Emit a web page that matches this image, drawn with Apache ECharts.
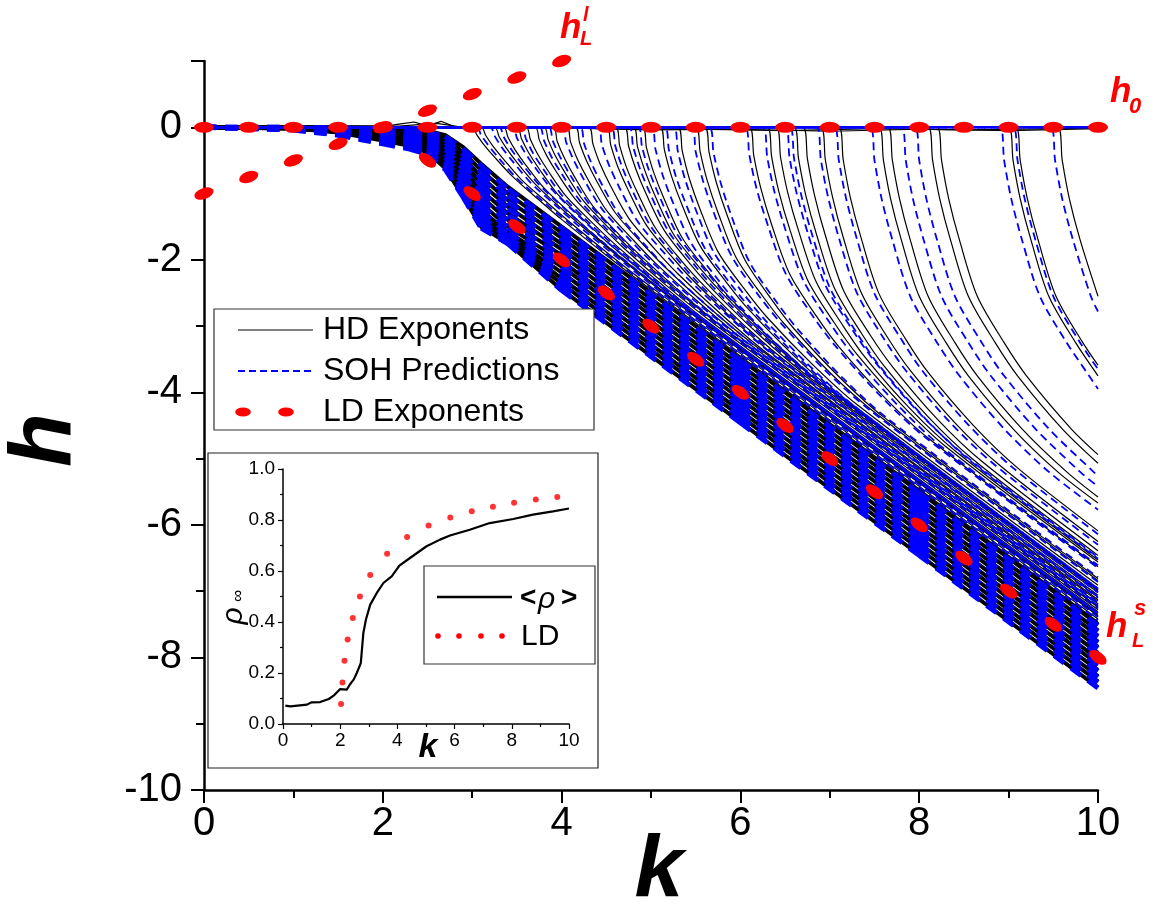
<!DOCTYPE html>
<html>
<head>
<meta charset="utf-8">
<script src="https://cdn.jsdelivr.net/npm/echarts@6/dist/echarts.min.js"></script>
<style>html,body{margin:0;background:#fff}#chart{width:1159px;height:913px}</style>
</head>
<body>
<div id="chart"></div>
<script>
// ---- main panel: growth exponents h versus k ----
const kTicksMain = [0, 2, 4, 6, 8, 10];

// exponents that leave h = 0 early (k < 3) share this k grid and form the dense lower band
const bandK = [0, 1, 1.5, 2, 2.3, 2.5, 2.7, 2.9, 3.1, 3.4, 4, 6, 8, 10];
const hdBandH = [
  [0, 0, 0, 0, -0.02, -0.05, -0.12, -0.3, -0.55, -0.9, -1.5, -3.5, -5.5, -7.5],
  [0, 0, 0, -0.01, -0.03, -0.07, -0.16, -0.38, -0.65, -1.0, -1.59, -3.59, -5.59, -7.59],
  [0, 0, -0.01, -0.02, -0.05, -0.1, -0.2, -0.45, -0.75, -1.1, -1.67, -3.67, -5.67, -7.67],
  [0, 0, -0.01, -0.03, -0.07, -0.13, -0.25, -0.52, -0.85, -1.2, -1.76, -3.76, -5.76, -7.76],
  [0, -0.01, -0.02, -0.05, -0.1, -0.16, -0.3, -0.6, -0.95, -1.3, -1.84, -3.84, -5.84, -7.84],
  [0, -0.01, -0.02, -0.07, -0.13, -0.2, -0.36, -0.68, -1.05, -1.4, -1.93, -3.93, -5.93, -7.93],
  [0, -0.01, -0.03, -0.09, -0.16, -0.24, -0.42, -0.76, -1.15, -1.5, -2.02, -4.02, -6.02, -8.02],
  [0, -0.01, -0.04, -0.11, -0.19, -0.28, -0.48, -0.84, -1.25, -1.58, -2.1, -4.1, -6.1, -8.1],
  [0, -0.01, -0.05, -0.14, -0.22, -0.31, -0.53, -0.9, -1.33, -1.64, -2.19, -4.19, -6.19, -8.19],
  [0, -0.02, -0.06, -0.16, -0.25, -0.34, -0.57, -0.96, -1.4, -1.68, -2.28, -4.28, -6.28, -8.28],
  [0, -0.02, -0.07, -0.18, -0.27, -0.36, -0.6, -1.0, -1.45, -1.72, -2.36, -4.36, -6.36, -8.36],
  [0, -0.02, -0.08, -0.2, -0.28, -0.38, -0.62, -1.05, -1.5, -1.75, -2.45, -4.45, -6.45, -8.45]
];
const sohBandH = [
  [0, 0, -0.01, -0.02, -0.04, -0.07, -0.14, -0.33, -0.58, -0.93, -1.52, -3.52, -5.52, -7.52],
  [0, 0, -0.02, -0.04, -0.07, -0.1, -0.19, -0.41, -0.68, -1.03, -1.61, -3.61, -5.61, -7.61],
  [0, -0.01, -0.03, -0.06, -0.1, -0.14, -0.24, -0.48, -0.78, -1.13, -1.69, -3.69, -5.69, -7.69],
  [0, -0.01, -0.04, -0.08, -0.13, -0.18, -0.29, -0.55, -0.88, -1.23, -1.78, -3.78, -5.78, -7.78],
  [0, -0.01, -0.05, -0.1, -0.16, -0.22, -0.34, -0.63, -0.98, -1.33, -1.86, -3.86, -5.86, -7.86],
  [0, -0.02, -0.06, -0.12, -0.19, -0.26, -0.4, -0.71, -1.08, -1.43, -1.95, -3.95, -5.95, -7.95],
  [0, -0.02, -0.07, -0.14, -0.22, -0.29, -0.45, -0.79, -1.18, -1.52, -2.04, -4.04, -6.04, -8.04],
  [0, -0.02, -0.08, -0.16, -0.24, -0.32, -0.5, -0.86, -1.27, -1.6, -2.12, -4.12, -6.12, -8.12],
  [0, -0.03, -0.09, -0.19, -0.27, -0.35, -0.55, -0.92, -1.35, -1.66, -2.21, -4.21, -6.21, -8.21],
  [0, -0.03, -0.1, -0.21, -0.29, -0.37, -0.58, -0.98, -1.42, -1.7, -2.3, -4.3, -6.3, -8.3],
  [0, -0.03, -0.11, -0.23, -0.31, -0.39, -0.61, -1.02, -1.47, -1.73, -2.38, -4.38, -6.38, -8.38],
  [0, -0.04, -0.12, -0.25, -0.33, -0.41, -0.64, -1.06, -1.52, -1.76, -2.46, -4.46, -6.46, -8.46]
];

// HD exponents that stay at h = 0 over the whole range
const hdFlat = [
  [[0, 0], [1, 0], [2, 0.01], [2.2, 0.05], [2.35, 0.08], [2.5, 0.02], [2.65, 0.09], [2.8, 0.01], [3.5, 0], [4.5, -0.02], [5.5, -0.03], [6.5, -0.05], [7.5, -0.02], [8.5, -0.04], [9.5, -0.02], [10, -0.01]],
  [[0, 0], [2, 0], [2.4, 0.04], [2.6, 0.06], [2.9, 0], [4, -0.01], [5, -0.04], [6, -0.03], [7, -0.06], [8, -0.03], [9, -0.05], [10, -0.02]]
];
const sohFlat = [[0, 0], [10, 0]];

// HD exponents leaving h = 0 at k >= 3
const hdCurves = [
  [[0,0],[3,0],[3.05,-.11],[3.13,-.26],[3.25,-.45],[3.45,-.74],[3.75,-1.1],[4,-1.39],[4.5,-1.93],[5,-2.45],[10,-7.46]],
  [[0,0],[3.1,0],[3.15,-.12],[3.23,-.28],[3.35,-.48],[3.55,-.79],[3.85,-1.15],[4.1,-1.44],[4.6,-1.99],[5.1,-2.51],[10,-7.42]],
  [[0,0],[3.25,0],[3.3,-.14],[3.38,-.31],[3.5,-.53],[3.7,-.85],[4,-1.23],[4.25,-1.52],[4.75,-2.08],[5.25,-2.61],[10,-7.37]],
  [[0,0],[3.35,0],[3.4,-.15],[3.48,-.34],[3.6,-.57],[3.8,-.91],[4.1,-1.3],[4.35,-1.61],[4.85,-2.17],[5.35,-2.7],[10,-7.37]],
  [[0,0],[3.5,0],[3.55,-.17],[3.63,-.38],[3.75,-.63],[3.95,-1],[4.25,-1.4],[4.5,-1.72],[5,-2.29],[5.5,-2.83],[10,-7.35]],
  [[0,0],[3.6,0],[3.65,-.18],[3.73,-.4],[3.85,-.66],[4.05,-1.04],[4.35,-1.45],[4.6,-1.77],[5.1,-2.35],[5.6,-2.9],[10,-7.31]],
  [[0,0],[3.7,0],[3.75,-.19],[3.83,-.42],[3.95,-.69],[4.15,-1.08],[4.45,-1.5],[4.7,-1.83],[5.2,-2.42],[5.7,-2.96],[10,-7.28]],
  [[0,0],[3.8,0],[3.85,-.19],[3.93,-.43],[4.05,-.71],[4.25,-1.12],[4.55,-1.55],[4.8,-1.88],[5.3,-2.48],[5.8,-3.02],[10,-7.24]],
  [[0,0],[3.9,0],[3.95,-.21],[4.03,-.46],[4.15,-.76],[4.35,-1.19],[4.65,-1.63],[4.9,-1.96],[5.4,-2.57],[5.9,-3.12],[10,-7.24]],
  [[0,0],[4.05,0],[4.1,-.22],[4.18,-.49],[4.3,-.8],[4.5,-1.25],[4.8,-1.7],[5.05,-2.05],[5.55,-2.66],[6.05,-3.22],[10,-7.19]],
  [[0,0],[4.15,0],[4.2,-.23],[4.28,-.51],[4.4,-.83],[4.6,-1.29],[4.9,-1.75],[5.15,-2.1],[5.65,-2.72],[6.15,-3.28],[10,-7.15]],
  [[0,0],[4.3,0],[4.35,-.25],[4.43,-.55],[4.55,-.89],[4.75,-1.37],[5.05,-1.85],[5.3,-2.21],[5.8,-2.84],[6.3,-3.41],[10,-7.13]],
  [[0,0],[4.5,0],[4.55,-.27],[4.63,-.6],[4.75,-.96],[4.95,-1.48],[5.25,-1.98],[5.5,-2.35],[6,-3],[6.5,-3.57],[10,-7.09]],
  [[0,0],[4.6,0],[4.65,-.28],[4.73,-.62],[4.85,-.99],[5.05,-1.52],[5.35,-2.03],[5.6,-2.4],[6.1,-3.06],[6.6,-3.63],[10,-7.06]],
  [[0,0],[4.7,0],[4.75,-.29],[4.83,-.63],[4.95,-1.02],[5.15,-1.56],[5.45,-2.08],[5.7,-2.46],[6.2,-3.12],[6.7,-3.7],[10,-7.02]],
  [[0,0],[4.8,0],[4.85,-.3],[4.93,-.65],[5.05,-1.05],[5.25,-1.61],[5.55,-2.13],[5.8,-2.51],[6.3,-3.18],[6.8,-3.76],[10,-6.99]],
  [[0,0],[4.9,0],[4.95,-.31],[5.03,-.68],[5.15,-1.09],[5.35,-1.67],[5.65,-2.2],[5.9,-2.6],[6.4,-3.27],[6.9,-3.86],[10,-6.99]],
  [[0,0],[5.1,0],[5.15,-.34],[5.23,-.74],[5.35,-1.18],[5.55,-1.79],[5.85,-2.35],[6.1,-2.76],[6.6,-3.45],[7.1,-4.05],[10,-6.98]],
  [[0,0],[5.3,0],[5.35,-.36],[5.43,-.78],[5.55,-1.24],[5.75,-1.88],[6.05,-2.45],[6.3,-2.87],[6.8,-3.57],[7.3,-4.18],[10,-6.91]],
  [[0,0],[5.5,0],[5.55,-.37],[5.63,-.81],[5.75,-1.29],[5.95,-1.96],[6.25,-2.55],[6.5,-2.98],[7,-3.7],[7.5,-4.3],[10,-6.84]],
  [[0,0],[5.6,0],[5.65,-.38],[5.73,-.83],[5.85,-1.32],[6.05,-2],[6.35,-2.6],[6.6,-3.04],[7.1,-3.76],[7.6,-4.37],[10,-6.81]],
  [[0,0],[6.1,0],[6.15,-.43],[6.23,-.93],[6.35,-1.47],[6.55,-2.21],[6.85,-2.85],[7.1,-3.31],[7.6,-4.06],[8.1,-4.69],[10,-6.63]],
  [[0,0],[6.3,0],[6.35,-.45],[6.43,-.97],[6.55,-1.53],[6.75,-2.3],[7.05,-2.95],[7.3,-3.42],[7.8,-4.18],[8.3,-4.82],[10,-6.56]],
  [[0,0],[6.4,0],[6.45,-.46],[6.53,-.99],[6.65,-1.56],[6.85,-2.34],[7.15,-3],[7.4,-3.48],[7.9,-4.25],[8.4,-4.88],[10,-6.53]],
  [[0,0],[6.6,0],[6.65,-.47],[6.73,-1.02],[6.85,-1.61],[7.05,-2.42],[7.35,-3.1],[7.6,-3.59],[8.1,-4.37],[8.6,-5.01],[10,-6.46]],
  [[0,0],[6.7,0],[6.75,-.48],[6.83,-1.03],[6.95,-1.63],[7.15,-2.45],[7.45,-3.13],[7.7,-3.61],[8.2,-4.4],[8.7,-5.04],[10,-6.39]],
  [[0,0],[6.9,0],[6.95,-.49],[7.03,-1.05],[7.15,-1.66],[7.35,-2.49],[7.65,-3.18],[7.9,-3.67],[8.4,-4.46],[8.9,-5.1],[10,-6.25]],
  [[0,0],[7.1,0],[7.15,-.49],[7.23,-1.06],[7.35,-1.67],[7.55,-2.51],[7.85,-3.2],[8.1,-3.7],[8.6,-4.49],[9.1,-5.14],[10,-6.09]],
  [[0,0],[7.55,0],[7.6,-.5],[7.68,-1.08],[7.8,-1.7],[8,-2.55],[8.3,-3.25],[8.55,-3.75],[9.05,-4.55],[9.55,-5.2],[10,-5.67]],
  [[0,0],[7.65,0],[7.7,-.5],[7.78,-1.08],[7.9,-1.7],[8.1,-2.55],[8.4,-3.25],[8.65,-3.75],[9.15,-4.55],[9.65,-5.2],[10,-5.58]],
  [[0,0],[8.1,0],[8.15,-.5],[8.23,-1.08],[8.35,-1.7],[8.55,-2.55],[8.85,-3.25],[9.1,-3.75],[9.6,-4.55],[10,-5.07]],
  [[0,0],[8.2,0],[8.25,-.5],[8.33,-1.08],[8.45,-1.7],[8.65,-2.55],[8.95,-3.25],[9.2,-3.75],[9.7,-4.55],[10,-4.94]],
  [[0,0],[9,0],[9.05,-.5],[9.13,-1.08],[9.25,-1.7],[9.45,-2.55],[9.75,-3.25],[10,-3.75]],
  [[0,0],[9.08,0],[9.13,-.5],[9.21,-1.08],[9.33,-1.7],[9.53,-2.55],[9.83,-3.25],[10,-3.59]],
  [[0,0],[9.55,0],[9.6,-.5],[9.68,-1.08],[9.8,-1.7],[10,-2.55]]
];

// SOH predictions for the same exponents
const sohCurves = [
  [[0,0],[3.05,0],[3.1,-.12],[3.18,-.27],[3.3,-.47],[3.5,-.77],[3.8,-1.13],[4.05,-1.41],[4.55,-1.96],[5.05,-2.48],[10,-7.44]],
  [[0,0],[3.2,0],[3.25,-.13],[3.33,-.3],[3.45,-.51],[3.65,-.83],[3.95,-1.2],[4.2,-1.5],[4.7,-2.05],[5.2,-2.58],[10,-7.39]],
  [[0,0],[3.3,0],[3.35,-.14],[3.43,-.32],[3.55,-.54],[3.75,-.87],[4.05,-1.25],[4.3,-1.55],[4.8,-2.11],[5.3,-2.64],[10,-7.35]],
  [[0,0],[3.45,0],[3.5,-.16],[3.58,-.36],[3.7,-.6],[3.9,-.95],[4.2,-1.35],[4.45,-1.66],[4.95,-2.23],[5.45,-2.77],[10,-7.33]],
  [[0,0],[3.55,0],[3.6,-.17],[3.68,-.39],[3.8,-.64],[4,-1.02],[4.3,-1.43],[4.55,-1.74],[5.05,-2.32],[5.55,-2.86],[10,-7.33]],
  [[0,0],[3.75,0],[3.8,-.19],[3.88,-.43],[4,-.7],[4.2,-1.1],[4.5,-1.53],[4.75,-1.85],[5.25,-2.45],[5.75,-2.99],[10,-7.26]],
  [[0,0],[3.85,0],[3.9,-.2],[3.98,-.44],[4.1,-.73],[4.3,-1.14],[4.6,-1.58],[4.85,-1.91],[5.35,-2.51],[5.85,-3.06],[10,-7.22]],
  [[0,0],[4,0],[4.05,-.22],[4.13,-.48],[4.25,-.79],[4.45,-1.23],[4.75,-1.68],[5,-2.02],[5.5,-2.63],[6,-3.18],[10,-7.2]],
  [[0,0],[4.2,0],[4.25,-.24],[4.33,-.53],[4.45,-.86],[4.65,-1.33],[4.95,-1.8],[5.2,-2.16],[5.7,-2.78],[6.2,-3.34],[10,-7.17]],
  [[0,0],[4.4,0],[4.45,-.26],[4.53,-.57],[4.65,-.92],[4.85,-1.42],[5.15,-1.9],[5.4,-2.27],[5.9,-2.9],[6.4,-3.47],[10,-7.1]],
  [[0,0],[4.55,0],[4.6,-.28],[4.68,-.61],[4.8,-.98],[5,-1.5],[5.3,-2],[5.55,-2.38],[6.05,-3.03],[6.55,-3.6],[10,-7.08]],
  [[0,0],[4.75,0],[4.8,-.29],[4.88,-.64],[5,-1.03],[5.2,-1.58],[5.5,-2.1],[5.75,-2.49],[6.25,-3.15],[6.75,-3.73],[10,-7.01]],
  [[0,0],[4.85,0],[4.9,-.3],[4.98,-.66],[5.1,-1.06],[5.3,-1.63],[5.6,-2.15],[5.85,-2.54],[6.35,-3.21],[6.85,-3.79],[10,-6.97]],
  [[0,0],[5,0],[5.05,-.33],[5.13,-.72],[5.25,-1.15],[5.45,-1.75],[5.75,-2.3],[6,-2.71],[6.5,-3.39],[7,-3.98],[10,-7.02]],
  [[0,0],[5.15,0],[5.2,-.34],[5.28,-.75],[5.4,-1.19],[5.6,-1.82],[5.9,-2.38],[6.15,-2.79],[6.65,-3.48],[7.15,-4.08],[10,-6.96]],
  [[0,0],[5.25,0],[5.3,-.36],[5.38,-.78],[5.5,-1.24],[5.7,-1.88],[6,-2.45],[6.25,-2.87],[6.75,-3.57],[7.25,-4.18],[10,-6.96]],
  [[0,0],[5.45,0],[5.5,-.37],[5.58,-.8],[5.7,-1.28],[5.9,-1.94],[6.2,-2.53],[6.45,-2.95],[6.95,-3.67],[7.45,-4.27],[10,-6.86]],
  [[0,0],[5.65,0],[5.7,-.39],[5.78,-.84],[5.9,-1.34],[6.1,-2.03],[6.4,-2.63],[6.65,-3.06],[7.15,-3.79],[7.65,-4.4],[10,-6.79]],
  [[0,0],[6.05,0],[6.1,-.42],[6.18,-.92],[6.3,-1.45],[6.5,-2.19],[6.8,-2.83],[7.05,-3.28],[7.55,-4.03],[8.05,-4.66],[10,-6.65]],
  [[0,0],[6.25,0],[6.3,-.45],[6.38,-.97],[6.5,-1.53],[6.7,-2.3],[7,-2.95],[7.25,-3.42],[7.75,-4.18],[8.25,-4.82],[10,-6.61]],
  [[0,0],[6.5,0],[6.55,-.46],[6.63,-1],[6.75,-1.58],[6.95,-2.38],[7.25,-3.05],[7.5,-3.53],[8,-4.31],[8.5,-4.94],[10,-6.49]],
  [[0,0],[6.55,0],[6.6,-.47],[6.68,-1.02],[6.8,-1.61],[7,-2.42],[7.3,-3.1],[7.55,-3.59],[8.05,-4.37],[8.55,-5.01],[10,-6.51]],
  [[0,0],[6.85,0],[6.9,-.49],[6.98,-1.05],[7.1,-1.66],[7.3,-2.49],[7.6,-3.18],[7.85,-3.67],[8.35,-4.46],[8.85,-5.1],[10,-6.3]],
  [[0,0],[7.05,0],[7.1,-.49],[7.18,-1.06],[7.3,-1.67],[7.5,-2.51],[7.8,-3.2],[8.05,-3.7],[8.55,-4.49],[9.05,-5.14],[10,-6.14]],
  [[0,0],[7.45,0],[7.5,-.5],[7.58,-1.08],[7.7,-1.7],[7.9,-2.55],[8.2,-3.25],[8.45,-3.75],[8.95,-4.55],[9.45,-5.2],[10,-5.77]],
  [[0,0],[7.8,0],[7.85,-.5],[7.93,-1.08],[8.05,-1.7],[8.25,-2.55],[8.55,-3.25],[8.8,-3.75],[9.3,-4.55],[9.8,-5.2],[10,-5.42]],
  [[0,0],[7.95,0],[8,-.5],[8.08,-1.08],[8.2,-1.7],[8.4,-2.55],[8.7,-3.25],[8.95,-3.75],[9.45,-4.55],[9.95,-5.2],[10,-5.26]],
  [[0,0],[8.9,0],[8.95,-.5],[9.03,-1.08],[9.15,-1.7],[9.35,-2.55],[9.65,-3.25],[9.9,-3.75],[10,-3.95]],
  [[0,0],[9.05,0],[9.1,-.5],[9.18,-1.08],[9.3,-1.7],[9.5,-2.55],[9.8,-3.25],[10,-3.65]],
  [[0,0],[9.47,0],[9.52,-.5],[9.6,-1.08],[9.72,-1.7],[9.92,-2.55],[10,-2.78]]
];

// LD exponents: h_0, h_L^l and h_L^s
const ldZeroK = [0, 0.5, 1, 1.5, 2, 2.5, 3, 3.5, 4, 4.5, 5, 5.5, 6, 6.5, 7, 7.5, 8, 8.5, 9, 9.5, 10];
const ldZeroH = [0, 0, 0, 0, 0, 0, 0, 0, 0, 0, 0, 0, 0, 0, 0, 0, 0, 0, 0, 0, 0];
const ldLargeK = [0, 0.5, 1, 1.5, 2, 2.5, 3, 3.5, 4];
const ldLargeH = [-1, -0.75, -0.5, -0.25, 0, 0.25, 0.5, 0.75, 1];
const ldSmallK = [2.5, 3, 3.5, 4, 4.5, 5, 5.5, 6, 6.5, 7, 7.5, 8, 8.5, 9, 9.5, 10];
const ldSmallH = [-0.5, -1, -1.5, -2, -2.5, -3, -3.5, -4, -4.5, -5, -5.5, -6, -6.5, -7, -7.5, -8];

// ---- inset: asymptotic density rho_inf versus k ----
const insetK = [0.08, 0.26, 0.84, 1.0, 1.3, 1.6, 1.77, 2.0, 2.23, 2.35, 2.47, 2.58, 2.72, 2.81, 2.9, 3.05, 3.28, 3.51, 3.8, 4.07, 4.44, 5.02, 5.49, 5.84, 6.53, 7.23, 8.05, 8.74, 9.44, 10];
const insetRho = [0.072, 0.069, 0.076, 0.085, 0.086, 0.098, 0.111, 0.137, 0.135, 0.157, 0.174, 0.2, 0.239, 0.357, 0.41, 0.468, 0.514, 0.553, 0.579, 0.621, 0.651, 0.697, 0.723, 0.739, 0.762, 0.788, 0.804, 0.821, 0.834, 0.845];
const insetLdK = [2.03, 2.08, 2.15, 2.26, 2.44, 2.69, 3.05, 3.64, 4.34, 5.09, 5.85, 6.6, 7.34, 8.08, 8.84, 9.59];
const insetLdRho = [0.078, 0.163, 0.248, 0.331, 0.416, 0.5, 0.584, 0.668, 0.733, 0.778, 0.81, 0.834, 0.852, 0.868, 0.88, 0.89];

const FONT = "'Liberation Sans', Arial, sans-serif";
const BLACK = '#000000', BLUE = '#0000ff', RED = '#ff0000';
const ELLIPSE = 'path://M0,5A10,5,0,1,1,20,5A10,5,0,1,1,0,5Z';

const zip = (ks, hs) => ks.map((k, i) => [k, hs[i]]);
// split a curve into separate pieces, one per data interval
const pieces = (ks, hs) => {
  const out = [];
  for (let i = 0; i < ks.length - 1; i++) {
    out.push([ks[i], hs[i]], [ks[i + 1], hs[i + 1]], [ks[i + 1], null]);
  }
  return out;
};

const series = [];
function line(name, data, style, extra) {
  series.push(Object.assign({
    name, type: 'line', data, showSymbol: false, symbol: 'none',
    lineStyle: style, silent: true, animation: false, connectNulls: false,
    xAxisIndex: 0, yAxisIndex: 0, z: 2
  }, extra || {}));
}

hdBandH.forEach(h => line('HD Exponents', zip(bandK, h), { color: BLACK, width: 4 }));
hdFlat.forEach(d => line('HD Exponents', d, { color: BLACK, width: 1.2 }));
hdCurves.forEach(d => line('HD Exponents', d, { color: BLACK, width: 1.2 }, { smooth: 0.3 }));
sohBandH.forEach(h => line('SOH Predictions', pieces(bandK, h), { color: BLUE, width: 5, type: [12.5, 8.5] }));
line('SOH Predictions', sohFlat, { color: BLUE, width: 2.6, type: [8, 5], dashOffset: 0 });
line('SOH Predictions', sohFlat, { color: BLUE, width: 2.6, type: [8, 5], dashOffset: 6.5 });
sohCurves.forEach((d, i) => line('SOH Predictions', d, { color: BLUE, width: 1.8, type: [8, 5], dashOffset: (i * 3) % 13 }, { smooth: 0.3 }));

function ld(data, rot) {
  series.push({
    name: 'LD Exponents', type: 'line', data, silent: true, animation: false,
    showSymbol: true, symbol: ELLIPSE, symbolSize: [20, 11], symbolRotate: rot,
    lineStyle: { width: 0, opacity: 0 }, itemStyle: { color: RED }, z: 5,
    xAxisIndex: 0, yAxisIndex: 0
  });
}
ld(zip(ldZeroK, ldZeroH), 0);
ld(zip(ldLargeK, ldLargeH), 20.3);
ld(zip(ldSmallK, ldSmallH), -36.5);

series.push({
  name: '<ρ>', type: 'line', data: zip(insetK, insetRho), xAxisIndex: 1, yAxisIndex: 1,
  showSymbol: false, symbol: 'none', lineStyle: { color: BLACK, width: 2.2 }, silent: true, animation: false, z: 4
});
series.push({
  name: 'LD', type: 'scatter', data: zip(insetLdK, insetLdRho), xAxisIndex: 1, yAxisIndex: 1,
  symbol: 'circle', symbolSize: 6, itemStyle: { color: RED }, silent: true, animation: false, z: 4
});

const axisCommon = (w, tick, minor) => ({
  axisLine: { show: true, onZero: false, lineStyle: { color: BLACK, width: w } },
  axisTick: { show: true, inside: false, length: tick, lineStyle: { color: BLACK, width: w * 0.8 } },
  minorTick: { show: true, splitNumber: 2, length: minor, lineStyle: { color: BLACK, width: w * 0.8 } },
  splitLine: { show: false }, minorSplitLine: { show: false }
});

const chart = echarts.init(document.getElementById('chart'), null, { renderer: 'canvas' });

const txt = (x, y, text, size, extra) => Object.assign({
  type: 'text', x, y, z: 100, silent: true,
  style: Object.assign({ text, fill: RED, fontFamily: FONT, fontSize: size, fontWeight: 'bold', fontStyle: 'italic', align: 'left', verticalAlign: 'top' }, (extra && extra.style) || {})
}, extra && extra.el || {});

chart.setOption({
  backgroundColor: '#ffffff',
  animation: false,
  grid: [
    { left: 204, top: 61, width: 894, height: 729, containLabel: false },
    { left: 283, top: 469, width: 286, height: 255, containLabel: false }
  ],
  xAxis: [
    Object.assign({ gridIndex: 0, type: 'value', min: kTicksMain[0], max: kTicksMain[kTicksMain.length - 1], interval: 2,
      axisLabel: { fontSize: 40, color: BLACK, fontFamily: FONT, margin: 14 } }, axisCommon(2.5, 13, 8)),
    Object.assign({ gridIndex: 1, type: 'value', min: 0, max: 10, interval: 2, z: 5,
      axisLabel: { fontSize: 19, color: BLACK, fontFamily: FONT, margin: 7 } }, axisCommon(1.5, 5, 3))
  ],
  yAxis: [
    Object.assign({ gridIndex: 0, type: 'value', min: -10, max: 1, interval: 2,
      axisLabel: { fontSize: 40, color: BLACK, fontFamily: FONT, margin: 22, formatter: v => (v > 0 ? '' : String(v)) } }, axisCommon(2.5, 13, 8)),
    Object.assign({ gridIndex: 1, type: 'value', min: 0, max: 1, interval: 0.2, z: 5,
      axisLabel: { fontSize: 19, color: BLACK, fontFamily: FONT, margin: 8, formatter: v => v.toFixed(1) } }, axisCommon(1.5, 5, 3))
  ],
  series,
  graphic: [
    // inset frame
    { type: 'rect', z: 1, silent: true, shape: { x: 208, y: 453, width: 390, height: 315 }, style: { fill: '#fff', stroke: '#222', lineWidth: 1.2 } },
    // main legend
    { type: 'rect', z: 100, silent: true, shape: { x: 214, y: 309, width: 380, height: 121 }, style: { fill: '#fff', stroke: '#333', lineWidth: 1.2 } },
    { type: 'line', z: 101, silent: true, shape: { x1: 238, y1: 330, x2: 313, y2: 330 }, style: { stroke: BLACK, lineWidth: 1.2 } },
    { type: 'line', z: 101, silent: true, shape: { x1: 238, y1: 371, x2: 313, y2: 371 }, style: { stroke: BLUE, lineWidth: 1.8, lineDash: [7, 4] } },
    { type: 'circle', z: 101, silent: true, x: 243, y: 412, scaleX: 1.7, shape: { cx: 0, cy: 0, r: 4.6 }, style: { fill: RED } },
    { type: 'circle', z: 101, silent: true, x: 286, y: 412, scaleX: 1.7, shape: { cx: 0, cy: 0, r: 4.6 }, style: { fill: RED } },
    txt(323, 330, 'HD Exponents', 32, { style: { fill: BLACK, fontWeight: 'normal', fontStyle: 'normal', verticalAlign: 'middle' } }),
    txt(323, 371, 'SOH Predictions', 32, { style: { fill: BLACK, fontWeight: 'normal', fontStyle: 'normal', verticalAlign: 'middle' } }),
    txt(323, 412, 'LD Exponents', 32, { style: { fill: BLACK, fontWeight: 'normal', fontStyle: 'normal', verticalAlign: 'middle' } }),
    // inset legend
    { type: 'rect', z: 100, silent: true, shape: { x: 424, y: 566, width: 171, height: 98 }, style: { fill: '#fff', stroke: '#333', lineWidth: 1.2 } },
    { type: 'line', z: 101, silent: true, shape: { x1: 437, y1: 597, x2: 512, y2: 597 }, style: { stroke: BLACK, lineWidth: 2.5 } },
    { type: 'circle', z: 101, silent: true, shape: { cx: 438, cy: 636, r: 2.8 }, style: { fill: RED } },
    { type: 'circle', z: 101, silent: true, shape: { cx: 459, cy: 636, r: 2.8 }, style: { fill: RED } },
    { type: 'circle', z: 101, silent: true, shape: { cx: 481, cy: 636, r: 2.8 }, style: { fill: RED } },
    { type: 'circle', z: 101, silent: true, shape: { cx: 502, cy: 636, r: 2.8 }, style: { fill: RED } },
    txt(520, 598, '<', 28, { style: { fill: BLACK, fontStyle: 'normal', verticalAlign: 'middle' } }),
    txt(538, 600, 'ρ', 30, { style: { fill: BLACK, fontWeight: 'normal', verticalAlign: 'middle' } }),
    txt(561, 598, '>', 28, { style: { fill: BLACK, fontStyle: 'normal', verticalAlign: 'middle' } }),
    txt(521, 637, 'LD', 30, { style: { fill: BLACK, fontWeight: 'normal', fontStyle: 'normal', verticalAlign: 'middle' } }),
    // axis titles
    txt(46, 440, 'h', 88, { style: { fill: BLACK, align: 'center', verticalAlign: 'middle' }, el: { rotation: Math.PI / 2 } }),
    txt(659, 872, 'k', 88, { style: { fill: BLACK, align: 'center', verticalAlign: 'middle' } }),
    txt(428, 748, 'k', 34, { style: { fill: BLACK, align: 'center', verticalAlign: 'middle' } }),
    txt(234, 616, 'ρ', 30, { style: { fill: BLACK, fontWeight: 'normal', align: 'center', verticalAlign: 'middle' }, el: { rotation: Math.PI / 2 } }),
    txt(238, 596, '∞', 17, { style: { fill: BLACK, fontWeight: 'normal', align: 'center', verticalAlign: 'middle' }, el: { rotation: Math.PI / 2 } }),
    // LD branch labels
    txt(560, 11, 'h', 35),
    txt(583, 5, 'l', 20),
    txt(580, 29, 'L', 20),
    txt(1110, 75, 'h', 35),
    txt(1129, 96, '0', 22),
    txt(1106, 610, 'h', 35),
    txt(1134, 598, 's', 22),
    txt(1132, 631, 'L', 20)
  ]
});
</script>
</body>
</html>
